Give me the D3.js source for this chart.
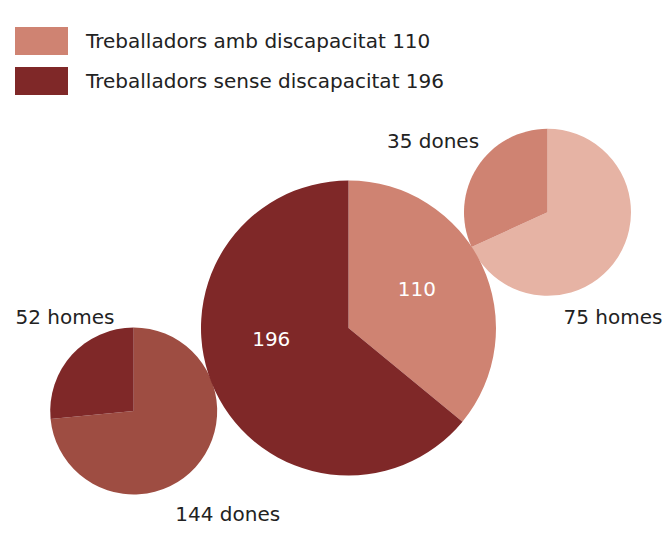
<!DOCTYPE html>
<html>
<head>
<meta charset="utf-8">
<script src="https://cdn.jsdelivr.net/npm/d3@7"></script>
<style>
  body { margin: 0; background: #fff; }
  text { font-family: "DejaVu Sans", Verdana, sans-serif; }
</style>
</head>
<body>
<script>
// main pie: workers with / without disability
var mainCategories = ["Treballadors amb discapacitat", "Treballadors sense discapacitat"];
var mainValues = [110, 196];
var mainColors = ["#cf8372", "#7f2828"];

// breakdown of "amb discapacitat" (110)
var ambLabels = ["homes", "dones"];
var ambValues = [75, 35];
var ambColors = ["#e6b3a4", "#cf8372"];

// breakdown of "sense discapacitat" (196)
var senseLabels = ["dones", "homes"];
var senseValues = [144, 52];
var senseColors = ["#9e4d42", "#7f2828"];

var width = 664, height = 552;

var svg = d3.select("body").append("svg")
    .attr("width", width)
    .attr("height", height);

// legend
var legend = svg.append("g").attr("transform", "translate(15,27)");
var items = legend.selectAll("g")
    .data(mainCategories)
    .enter().append("g")
    .attr("transform", function (d, i) { return "translate(0," + (i * 40) + ")"; });
items.append("rect")
    .attr("width", 53)
    .attr("height", 28)
    .attr("fill", function (d, i) { return mainColors[i]; });
items.append("text")
    .attr("x", 71)
    .attr("y", 14)
    .attr("dy", "0.35em")
    .attr("font-size", 20)
    .attr("fill", "#222")
    .text(function (d, i) { return d + " " + mainValues[i]; });

var pie = d3.pie().sort(null).value(function (d) { return d; });

function drawPie(cx, cy, r, values, colors) {
    var g = svg.append("g").attr("transform", "translate(" + cx + "," + cy + ")");
    var arc = d3.arc().innerRadius(0).outerRadius(r);
    g.selectAll("path")
        .data(pie(values))
        .enter().append("path")
        .attr("d", arc)
        .attr("fill", function (d, i) { return colors[i]; });
    return g;
}

// small pies first so the big one sits on top
var gAmb = drawPie(547.5, 212.3, 83.5, ambValues, ambColors);
var gSense = drawPie(133.7, 411, 83.5, senseValues, senseColors);
var gMain = drawPie(348.5, 328, 147.5, mainValues, mainColors);

// inside labels for main pie
var mainLabelPos = [[60, 79], [262, 78]]; // angle (deg), radius
gMain.selectAll("text.in")
    .data(mainValues)
    .enter().append("text")
    .attr("class", "in")
    .attr("transform", function (d, i) {
        var p = d3.pointRadial(mainLabelPos[i][0] * Math.PI / 180, mainLabelPos[i][1]);
        return "translate(" + p + ")";
    })
    .attr("text-anchor", "middle")
    .attr("dy", "0.35em")
    .attr("font-size", 20)
    .attr("fill", "#fff")
    .text(function (d) { return d; });

// outside labels for the small pies
function outLabels(g, values, labels, offsets) {
    g.selectAll("text.out")
        .data(values)
        .enter().append("text")
        .attr("class", "out")
        .attr("x", function (d, i) { return offsets[i][0]; })
        .attr("y", function (d, i) { return offsets[i][1]; })
        .attr("text-anchor", "middle")
        .attr("dy", "0.35em")
        .attr("font-size", 20)
        .attr("fill", "#222")
        .text(function (d, i) { return d + " " + labels[i]; });
}
outLabels(gAmb, ambValues, ambLabels, [[65.5, 105], [-114.5, -71]]);
outLabels(gSense, senseValues, senseLabels, [[94, 103], [-68.7, -94]]);
</script>
</body>
</html>
